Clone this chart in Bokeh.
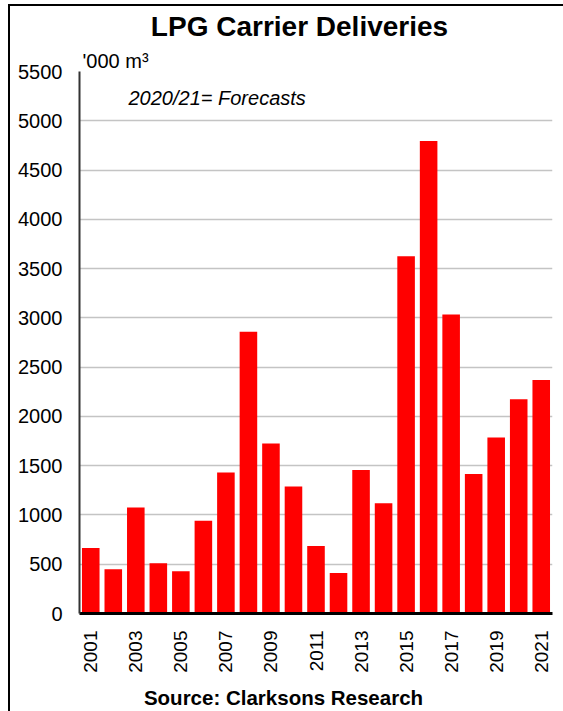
import math
from bokeh.plotting import figure
from bokeh.models import Range1d, FixedTicker, Label
from bokeh.embed import file_html
from bokeh.resources import INLINE

# LPG carrier deliveries, '000 m3 (2020 and 2021 are forecasts)
years = list(range(2001, 2022))
deliveries = [665, 450, 1075, 510, 430, 940, 1430, 2860, 1725, 1290, 685,
              410, 1455, 1120, 3625, 4795, 3035, 1415, 1785, 2175, 2370]
x_ticks = list(range(2001, 2022, 2))
y_ticks = list(range(0, 5501, 500))

FONT = "Liberation Sans"
W, H = 563, 711
LEFT, RIGHT, TOP, BOTTOM = 79, 11, 71, 98
X0, X1 = 2000.5, 2021.5
Y0, Y1 = 0, 5500

# thin black rule along the top and left edge of the page, painted behind
# a transparent canvas
edge_css = ("linear-gradient(#000, #000) 8px 4px / 555px 2px no-repeat, "
            "linear-gradient(#000, #000) 8px 4px / 2px 707px no-repeat, #fff")

p = figure(width=W, height=H, output_backend="svg", toolbar_location=None,
           x_range=Range1d(X0, X1), y_range=Range1d(Y0, Y1),
           min_border_left=LEFT, min_border_right=RIGHT,
           min_border_top=TOP, min_border_bottom=BOTTOM,
           styles={"background": edge_css})
p.outline_line_color = None
p.background_fill_color = None
p.border_fill_color = None

frame_w = W - LEFT - RIGHT
frame_h = H - TOP - BOTTOM


# canvas pixel (from top-left) -> data coordinates
def px_x(px):
    return X0 + (px - LEFT) / frame_w * (X1 - X0)


def px_y(py):
    return Y0 + (H - BOTTOM - py) / frame_h * (Y1 - Y0)


p.vbar(x=years, top=deliveries, width=0.78, fill_color="#ff0000", line_color=None)

# axes
p.xaxis.ticker = FixedTicker(ticks=x_ticks)
p.xaxis.major_label_orientation = math.pi / 2
p.xaxis.major_label_text_font = FONT
p.xaxis.major_label_text_font_size = "19px"
p.xaxis.major_label_text_color = "black"
p.xaxis.major_label_standoff = 17
p.xaxis.major_tick_out = 0
p.xaxis.major_tick_in = 0
p.xaxis.minor_tick_out = 0
p.xaxis.minor_tick_in = 0
p.xaxis.axis_line_color = "black"
p.xaxis.axis_line_width = 3

p.yaxis.ticker = FixedTicker(ticks=y_ticks)
p.yaxis.major_label_text_font = FONT
p.yaxis.major_label_text_font_size = "20px"
p.yaxis.major_label_text_color = "black"
p.yaxis.major_label_standoff = 17
p.yaxis.major_tick_out = 0
p.yaxis.major_tick_in = 0
p.yaxis.minor_tick_out = 0
p.yaxis.minor_tick_in = 0
p.yaxis.axis_line_color = "#333333"
p.yaxis.axis_line_width = 2

p.xgrid.grid_line_color = None
p.ygrid.grid_line_color = "#c4c4c4"
p.ygrid.grid_line_width = 1.5

# texts (anchor y is about 0.4 em above the drawn baseline)
common = dict(text_baseline="alphabetic", text_color="black", text_font=FONT)
title = Label(x=px_x(299), y=px_y(26), text="LPG Carrier Deliveries",
              text_font_size="28px", text_font_style="bold", text_align="center", **common)
units = Label(x=px_x(82), y=px_y(60), text="'000 m³",
              text_font_size="20px", text_align="left", **common)
note = Label(x=px_x(128), y=px_y(97), text="2020/21= Forecasts",
             text_font_size="20px", text_font_style="italic", text_align="left", **common)
source = Label(x=px_x(283), y=px_y(697), text="Source: Clarksons Research",
               text_font_size="20.5px", text_font_style="bold", text_align="center", **common)

p.add_layout(units, "above")
p.add_layout(title, "above")
p.add_layout(note)
p.add_layout(source, "below")

open("out.html", "w").write(file_html(p, INLINE))
